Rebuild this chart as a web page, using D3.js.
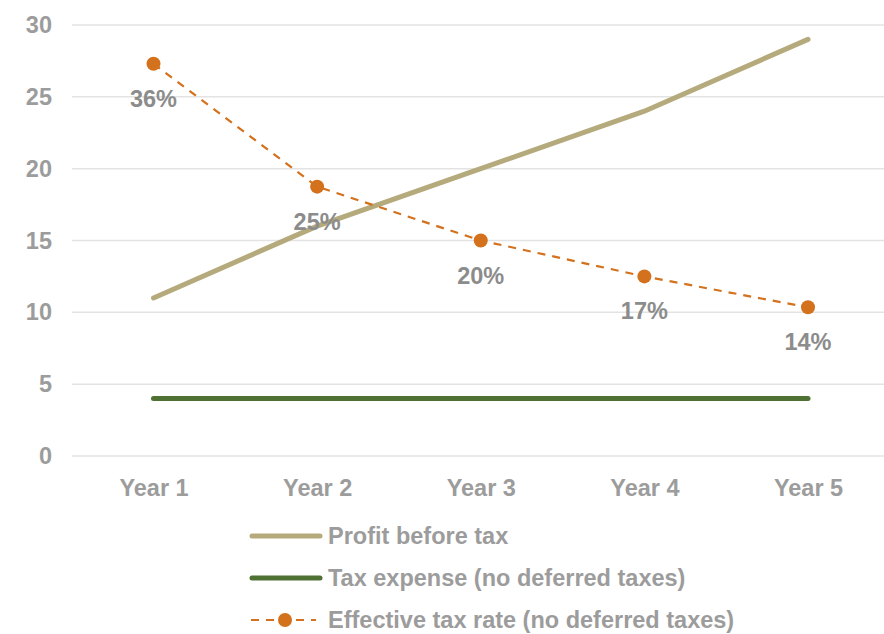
<!DOCTYPE html>
<html><head><meta charset="utf-8">
<script src="https://cdn.jsdelivr.net/npm/d3@7/dist/d3.min.js"></script>
<style>body{margin:0;background:#fff}svg{display:block;font-family:Arial,"Liberation Sans",sans-serif;font-weight:bold}</style>
</head><body><svg id="c" width="884" height="634"></svg>
<script>
const categories = ["Year 1","Year 2","Year 3","Year 4","Year 5"];
const profitBeforeTax = [11, 16, 20, 24, 29];
const taxExpense = [4, 4, 4, 4, 4];
const effectiveRatePlot = [27.3, 18.75, 15, 12.5, 10.35];
const effectiveRateLabels = ["36%","25%","20%","17%","14%"];
const yTicks = [0,5,10,15,20,25,30];
const seriesNames = ["Profit before tax","Tax expense (no deferred taxes)","Effective tax rate (no deferred taxes)"];

const FS = 23.5;
const svg = d3.select("#c");
const x = d3.scalePoint().domain(categories).range([153.5, 808]);
const y = d3.scaleLinear().domain([0,30]).range([456, 25]);

// gridlines
svg.append("g").selectAll("line").data(yTicks).join("line")
  .attr("x1",72).attr("x2",884).attr("y1",d=>y(d)).attr("y2",d=>y(d))
  .attr("stroke","#e3e3e3").attr("stroke-width",1.5);

// y axis labels
const yAxis = svg.append("g").attr("transform","translate(52,0)")
  .call(d3.axisLeft(y).tickValues(yTicks).tickSize(0).tickPadding(0));
yAxis.select(".domain").remove();
yAxis.selectAll("text").attr("font-size",FS).attr("fill","#9c9c9c")
  .attr("font-family","Arial,'Liberation Sans',sans-serif").attr("font-weight","bold");

// x axis labels
const xAxis = svg.append("g").attr("transform","translate(0,479)")
  .call(d3.axisBottom(x).tickSize(0).tickPadding(0));
xAxis.select(".domain").remove();
xAxis.selectAll("text").attr("font-size",FS).attr("fill","#9c9c9c")
  .attr("font-family","Arial,'Liberation Sans',sans-serif").attr("font-weight","bold");

const line = d3.line().x((d,i)=>x(categories[i])).y(d=>y(d));

svg.append("path").datum(profitBeforeTax).attr("d",line)
  .attr("fill","none").attr("stroke","#b5aa7c").attr("stroke-width",5).attr("stroke-linecap","round");
svg.append("path").datum(taxExpense).attr("d",line)
  .attr("fill","none").attr("stroke","#4f7133").attr("stroke-width",5).attr("stroke-linecap","round");
svg.append("path").datum(effectiveRatePlot).attr("d",line)
  .attr("fill","none").attr("stroke","#d3711c").attr("stroke-width",2.2).attr("stroke-dasharray","8,7");
svg.append("g").selectAll("circle").data(effectiveRatePlot).join("circle")
  .attr("cx",(d,i)=>x(categories[i])).attr("cy",d=>y(d)).attr("r",7).attr("fill","#d3711c");
svg.append("g").selectAll("text").data(effectiveRatePlot).join("text")
  .attr("x",(d,i)=>x(categories[i])).attr("y",d=>y(d)+43)
  .attr("text-anchor","middle").attr("font-size",FS).attr("fill","#8c8c8c")
  .text((d,i)=>effectiveRateLabels[i]);

// legend
const lg = svg.append("g");
const rows = [536, 578, 620];
lg.append("line").attr("x1",252).attr("x2",320).attr("y1",rows[0]).attr("y2",rows[0])
  .attr("stroke","#b5aa7c").attr("stroke-width",5).attr("stroke-linecap","round");
lg.append("line").attr("x1",252).attr("x2",320).attr("y1",rows[1]).attr("y2",rows[1])
  .attr("stroke","#4f7133").attr("stroke-width",5).attr("stroke-linecap","round");
lg.append("line").attr("x1",251).attr("x2",316).attr("y1",rows[2]).attr("y2",rows[2])
  .attr("stroke","#d3711c").attr("stroke-width",2.2).attr("stroke-dasharray","8,7");
lg.append("circle").attr("cx",285).attr("cy",rows[2]).attr("r",7).attr("fill","#d3711c");
lg.selectAll("text").data(seriesNames).join("text")
  .attr("x",328).attr("y",(d,i)=>rows[i]+8).attr("font-size",FS).attr("fill","#9c9c9c").text(d=>d);
</script></body></html>
